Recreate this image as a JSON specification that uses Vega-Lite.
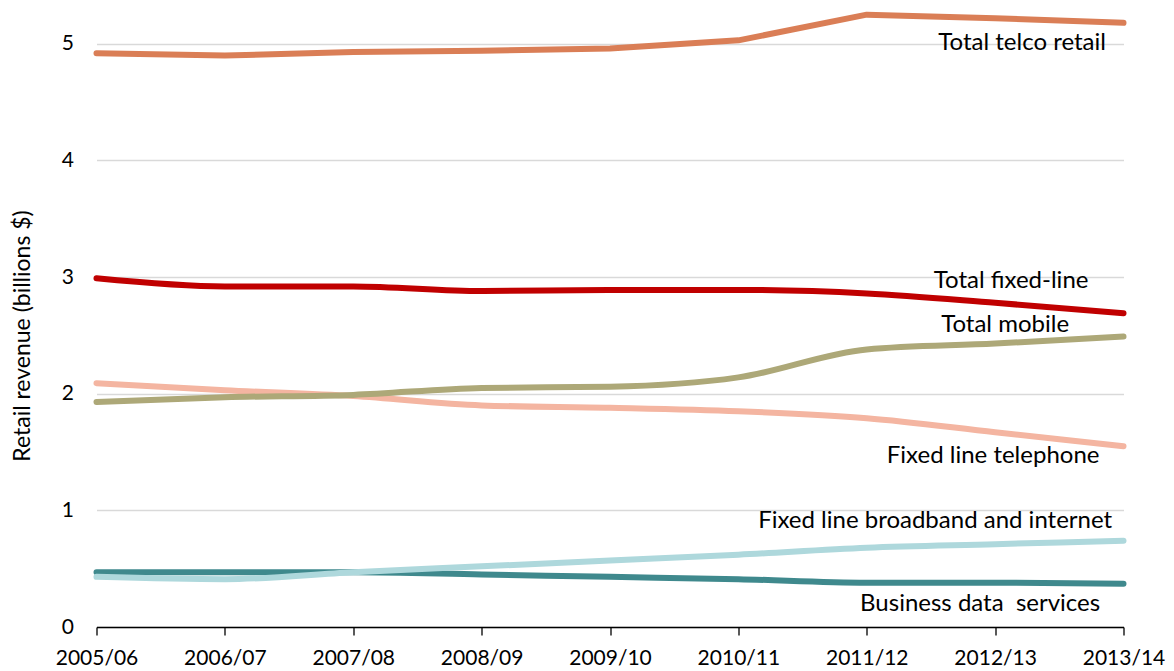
{
  "$schema": "https://vega.github.io/schema/vega-lite/v6.json",
  "width": 1027,
  "height": 624,
  "autosize": {"type": "none"},
  "padding": {"left": 96.5, "top": 3, "right": 50.5, "bottom": 44},
  "background": "white",
  "config": {"view": {"stroke": null}, "font": "Lato"},
  "datasets": {
    "series": [
      {"series": "Total telco retail", "year": "2005/06", "value": 4.92},
      {"series": "Total telco retail", "year": "2006/07", "value": 4.90},
      {"series": "Total telco retail", "year": "2007/08", "value": 4.93},
      {"series": "Total telco retail", "year": "2008/09", "value": 4.94},
      {"series": "Total telco retail", "year": "2009/10", "value": 4.96},
      {"series": "Total telco retail", "year": "2010/11", "value": 5.03},
      {"series": "Total telco retail", "year": "2011/12", "value": 5.25},
      {"series": "Total telco retail", "year": "2012/13", "value": 5.22},
      {"series": "Total telco retail", "year": "2013/14", "value": 5.18},
      {"series": "Total fixed-line", "year": "2005/06", "value": 2.99},
      {"series": "Total fixed-line", "year": "2006/07", "value": 2.92},
      {"series": "Total fixed-line", "year": "2007/08", "value": 2.92},
      {"series": "Total fixed-line", "year": "2008/09", "value": 2.88},
      {"series": "Total fixed-line", "year": "2009/10", "value": 2.89},
      {"series": "Total fixed-line", "year": "2010/11", "value": 2.89},
      {"series": "Total fixed-line", "year": "2011/12", "value": 2.86},
      {"series": "Total fixed-line", "year": "2012/13", "value": 2.78},
      {"series": "Total fixed-line", "year": "2013/14", "value": 2.69},
      {"series": "Fixed line telephone", "year": "2005/06", "value": 2.09},
      {"series": "Fixed line telephone", "year": "2006/07", "value": 2.03},
      {"series": "Fixed line telephone", "year": "2007/08", "value": 1.98},
      {"series": "Fixed line telephone", "year": "2008/09", "value": 1.90},
      {"series": "Fixed line telephone", "year": "2009/10", "value": 1.88},
      {"series": "Fixed line telephone", "year": "2010/11", "value": 1.85},
      {"series": "Fixed line telephone", "year": "2011/12", "value": 1.79},
      {"series": "Fixed line telephone", "year": "2012/13", "value": 1.67},
      {"series": "Fixed line telephone", "year": "2013/14", "value": 1.55},
      {"series": "Total mobile", "year": "2005/06", "value": 1.93},
      {"series": "Total mobile", "year": "2006/07", "value": 1.97},
      {"series": "Total mobile", "year": "2007/08", "value": 1.99},
      {"series": "Total mobile", "year": "2008/09", "value": 2.05},
      {"series": "Total mobile", "year": "2009/10", "value": 2.06},
      {"series": "Total mobile", "year": "2010/11", "value": 2.14},
      {"series": "Total mobile", "year": "2011/12", "value": 2.38},
      {"series": "Total mobile", "year": "2012/13", "value": 2.43},
      {"series": "Total mobile", "year": "2013/14", "value": 2.49},
      {"series": "Business data services", "year": "2005/06", "value": 0.47},
      {"series": "Business data services", "year": "2006/07", "value": 0.47},
      {"series": "Business data services", "year": "2007/08", "value": 0.47},
      {"series": "Business data services", "year": "2008/09", "value": 0.45},
      {"series": "Business data services", "year": "2009/10", "value": 0.43},
      {"series": "Business data services", "year": "2010/11", "value": 0.41},
      {"series": "Business data services", "year": "2011/12", "value": 0.38},
      {"series": "Business data services", "year": "2012/13", "value": 0.38},
      {"series": "Business data services", "year": "2013/14", "value": 0.37},
      {"series": "Fixed line broadband and internet", "year": "2005/06", "value": 0.43},
      {"series": "Fixed line broadband and internet", "year": "2006/07", "value": 0.41},
      {"series": "Fixed line broadband and internet", "year": "2007/08", "value": 0.47},
      {"series": "Fixed line broadband and internet", "year": "2008/09", "value": 0.52},
      {"series": "Fixed line broadband and internet", "year": "2009/10", "value": 0.57},
      {"series": "Fixed line broadband and internet", "year": "2010/11", "value": 0.62},
      {"series": "Fixed line broadband and internet", "year": "2011/12", "value": 0.68},
      {"series": "Fixed line broadband and internet", "year": "2012/13", "value": 0.71},
      {"series": "Fixed line broadband and internet", "year": "2013/14", "value": 0.74}
    ],
    "labels": [
      {"label": "Total telco retail", "year": "2012/13", "value": 5.01},
      {"label": "Total fixed-line", "year": "2012/13", "value": 2.97},
      {"label": "Total mobile", "year": "2012/13", "value": 2.59},
      {"label": "Fixed line telephone", "year": "2012/13", "value": 1.47},
      {"label": "Fixed line broadband and internet", "year": "2012/13", "value": 0.905},
      {"label": "Business data\u00a0 services", "year": "2012/13", "value": 0.2}
    ]
  },
  "encoding": {
    "x": {
      "field": "year",
      "type": "ordinal",
      "scale": {"type": "point", "padding": 0},
      "axis": {
        "title": null,
        "labelAngle": 0,
        "labelFontSize": 21,
        "labelColor": "#000000",
        "labelPadding": 12,
        "domainColor": "#000000",
        "domainWidth": 1.3,
        "tickColor": "#000000",
        "tickWidth": 1.3,
        "tickSize": 8,
        "grid": false
      }
    },
    "y": {
      "field": "value",
      "type": "quantitative",
      "scale": {"domain": [0, 5.35], "nice": false, "zero": true},
      "axis": {
        "values": [0, 1, 2, 3, 4, 5],
        "grid": true,
        "gridColor": "#D9D9D9",
        "gridWidth": 1.3,
        "domain": false,
        "ticks": false,
        "labelFontSize": 21,
        "labelColor": "#000000",
        "labelPadding": 23,
        "title": "Retail revenue (billions $)",
        "titleFontSize": 23,
        "titleFontWeight": "normal",
        "titleColor": "#000000",
        "titleX": -74,
        "titleY": 332.5,
        "titleAngle": -90,
        "titleAlign": "center",
        "titleBaseline": "middle"
      }
    }
  },
  "layer": [
    {
      "data": {"name": "series"},
      "transform": [{"filter": "datum.series != 'Total telco retail'"}],
      "mark": {"type": "line", "strokeWidth": 6, "interpolate": "monotone", "strokeCap": "round"},
      "encoding": {
        "color": {
          "field": "series",
          "type": "nominal",
          "sort": null,
          "legend": null,
          "scale": {
            "domain": ["Total telco retail", "Total fixed-line", "Fixed line telephone", "Total mobile", "Business data services", "Fixed line broadband and internet"],
            "range": ["#DA7E56", "#C00000", "#F4B5A1", "#ADA878", "#3F898D", "#AED8DC"]
          }
        }
      }
    },
    {
      "data": {"name": "series"},
      "transform": [{"filter": "datum.series == 'Total telco retail'"}],
      "mark": {"type": "line", "strokeWidth": 6, "interpolate": "linear", "strokeCap": "round", "strokeJoin": "round"},
      "encoding": {
        "color": {"field": "series", "type": "nominal", "legend": null}
      }
    },
    {
      "data": {"name": "labels"},
      "transform": [{"filter": "datum.label == 'Total telco retail'"}],
      "mark": {"type": "text", "fontSize": 24, "align": "center", "baseline": "middle", "dx": 27, "color": "#000000"},
      "encoding": {"text": {"field": "label"}}
    },
    {
      "data": {"name": "labels"},
      "transform": [{"filter": "datum.label == 'Total fixed-line'"}],
      "mark": {"type": "text", "fontSize": 24, "align": "center", "baseline": "middle", "dx": 16, "color": "#000000"},
      "encoding": {"text": {"field": "label"}}
    },
    {
      "data": {"name": "labels"},
      "transform": [{"filter": "datum.label == 'Total mobile'"}],
      "mark": {"type": "text", "fontSize": 24, "align": "center", "baseline": "middle", "dx": 10, "color": "#000000"},
      "encoding": {"text": {"field": "label"}}
    },
    {
      "data": {"name": "labels"},
      "transform": [{"filter": "datum.label == 'Fixed line telephone'"}],
      "mark": {"type": "text", "fontSize": 24, "align": "center", "baseline": "middle", "dx": -2, "color": "#000000"},
      "encoding": {"text": {"field": "label"}}
    },
    {
      "data": {"name": "labels"},
      "transform": [{"filter": "datum.label == 'Fixed line broadband and internet'"}],
      "mark": {"type": "text", "fontSize": 24, "align": "center", "baseline": "middle", "dx": -60, "color": "#000000"},
      "encoding": {"text": {"field": "label"}}
    },
    {
      "data": {"name": "labels"},
      "transform": [{"filter": "datum.label == 'Business data\u00a0 services'"}],
      "mark": {"type": "text", "fontSize": 24, "align": "center", "baseline": "middle", "dx": -15, "color": "#000000"},
      "encoding": {"text": {"field": "label"}}
    }
  ]
}
